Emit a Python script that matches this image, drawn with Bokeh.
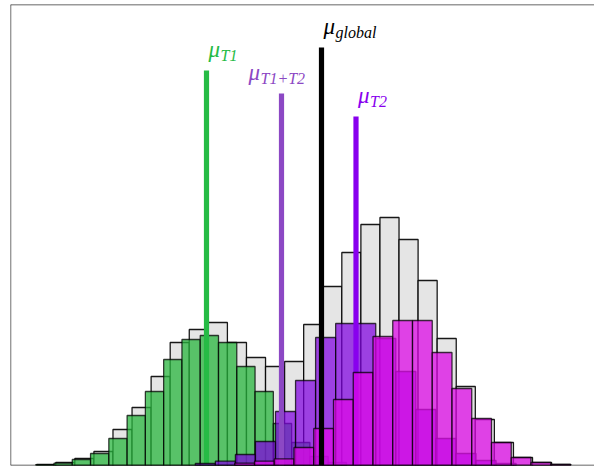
from bokeh.plotting import figure
from bokeh.models import Range1d, Span
from bokeh.core.properties import value
from bokeh.embed import file_html
from bokeh.resources import INLINE

# Histogram layouts: first bin edge, bin width, bar heights
global_start, global_width = 26.2, 19.07
global_counts = [1, 3, 7, 14, 36, 58, 89, 123, 136, 143, 123, 108, 99, 104,
                 141, 179, 213, 241, 248, 226, 185, 127, 79, 46, 23, 8, 3, 1]

t1_start, t1_width = 25.2, 18.28
t1_counts = [0.8, 2.3, 6, 12, 27, 50, 74, 106, 126, 130, 123, 99, 74, 42, 23, 9, 3]

t2_start, t2_width = 184.8, 20.05
t2_counts = [2, 4.3, 11, 24, 54, 85, 128, 142, 142, 127, 94, 56, 27, 12, 5, 2]

extra_start, extra_width = 224.25, 19.75
extra_counts = [2.3, 4.3, 6.7, 18, 37, 66, 93, 129, 145, 145, 113, 77, 47, 23, 8, 3, 1]

# Means: position and marker height
mean_names = ["T1", "T1+T2", "global", "T2"]
mean_x = [196, 271, 311, 345.5]
mean_top = [395, 372, 418, 349]
mean_colors = ["#26bb45", "#8c48c4", "#000000", "#8800ee"]

FONT = value("Liberation Serif")

p = figure(width=594, height=466, output_backend="svg", toolbar_location=None,
           x_range=Range1d(0, 584), y_range=Range1d(0, 461),
           x_axis_location=None, y_axis_location=None,
           min_border_left=10, min_border_top=4, min_border_right=0,
           min_border_bottom=1)
p.grid.visible = False
p.outline_line_color = None
p.background_fill_color = "white"
p.border_fill_color = "white"


def hist(start, width, counts, fill, fill_alpha, line_alpha):
    lefts = [start + i * width for i in range(len(counts))]
    rights = [l + width for l in lefts]
    p.quad(left=lefts, right=rights, bottom=0, top=counts,
           fill_color=fill, fill_alpha=fill_alpha,
           line_color="black", line_alpha=line_alpha, line_width=1.3)


def mean_line(i):
    p.segment(x0=[mean_x[i]], y0=[0], x1=[mean_x[i]], y1=[mean_top[i]],
              line_color=mean_colors[i], line_width=5.2)


hist(global_start, global_width, global_counts, "#e5e5e5", 1.0, 0.9)
hist(t1_start, t1_width, t1_counts, "#28b63e", 0.75, 0.75)
mean_line(0)
hist(t2_start, t2_width, t2_counts, "#8000e0", 0.72, 0.75)
mean_line(1)
mean_line(3)
hist(extra_start, extra_width, extra_counts, "#dc0ae6", 0.75, 0.75)
mean_line(2)

# Labels: mu with an italic subscript above each mean line
shift = {"T1+T2": -35}
for i, name in enumerate(mean_names):
    x = mean_x[i] + 2 + shift.get(name, 0)
    top = mean_top[i]
    p.text(x=[x], y=[top + 21], text=["μ"], text_font=FONT,
           text_font_style="italic", text_font_size="23px",
           text_color=mean_colors[i], text_baseline="alphabetic",
           text_align="left")
    p.text(x=[x + 12], y=[top + 15], text=[name], text_font=FONT,
           text_font_style="italic", text_font_size="16px",
           text_color=mean_colors[i], text_baseline="alphabetic",
           text_align="left")

# Frame edges: left, top and baseline
for loc, dim in [(0, "height"), (461, "width"), (0, "width")]:
    p.add_layout(Span(location=loc, dimension=dim, line_color="black",
                      line_width=1.4, line_alpha=0.8))

open("out.html", "w").write(file_html(p, INLINE))
